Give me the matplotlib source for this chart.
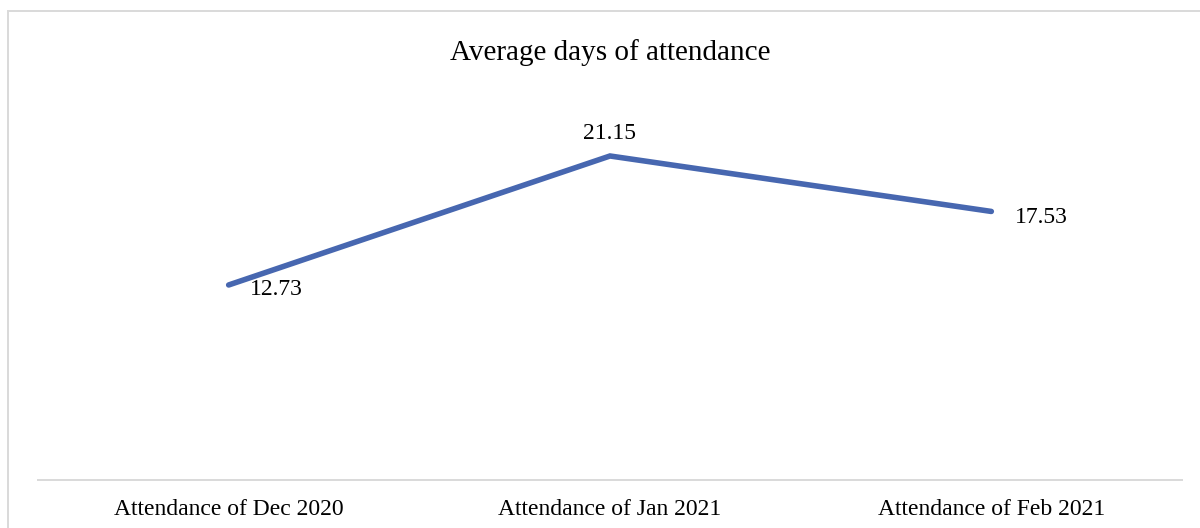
import matplotlib
matplotlib.use("Agg")
import matplotlib.pyplot as plt
from matplotlib.patches import Rectangle

# data
months = ["Attendance of Dec 2020", "Attendance of Jan 2021", "Attendance of Feb 2021"]
avg_days = [12.73, 21.15, 17.53]
title = "Average days of attendance"

plt.rcParams['font.family'] = ['Liberation Serif', 'DejaVu Serif']

fig = plt.figure(figsize=(12, 5.28), dpi=100)
ax = fig.add_axes([38/1200, 48/528, 1144/1200, 383/528])

x = list(range(len(months)))
ax.plot(x, avg_days, color='#4767B0', lw=4.0, solid_capstyle='round', solid_joinstyle='miter')

# data labels (right / above / right like the original)
offsets = [(15, -7, 'left'), (0, 12, 'center'), (17, -8, 'left')]
for xi, v, (dx, dy, ha) in zip(x, avg_days, offsets):
    ax.annotate(f"{v:.2f}", (xi, v), xytext=(dx, dy), textcoords='offset points',
                ha=ha, va='baseline', fontsize=17)

ax.set_xlim(-0.5, len(months) - 0.5)
ax.set_ylim(0, 25)
ax.set_xticks(x, months, fontsize=17)
ax.tick_params(axis='x', length=0, pad=14)
ax.set_yticks([])
for s in ['top', 'right', 'left']:
    ax.spines[s].set_visible(False)
ax.spines['bottom'].set_color('#D9D9D9')
ax.spines['bottom'].set_linewidth(1.4)

fig.text(610/1200, 1 - 53/528, title, ha='center', va='center', fontsize=21)

# chart frame (cut off at right and bottom in the original)
fig.patches.append(Rectangle((8/1200, -0.2), 1.2, 0.2 + 517/528, transform=fig.transFigure,
                             fill=False, edgecolor='#D9D9D9', lw=1.4, clip_on=False))

fig.savefig("out.png", dpi=100)
